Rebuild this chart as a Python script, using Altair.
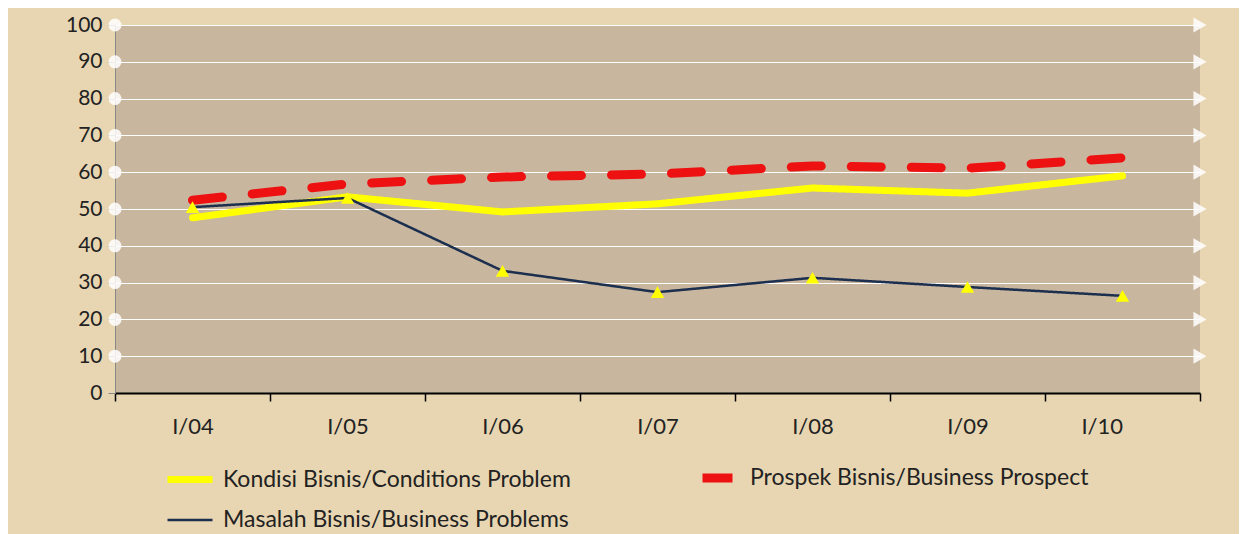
import altair as alt
import pandas as pd

categories = ["I/04", "I/05", "I/06", "I/07", "I/08", "I/09", "I/10"]
series_names = [
    "Kondisi Bisnis/Conditions Problem",
    "Prospek Bisnis/Business Prospect",
    "Masalah Bisnis/Business Problems",
]
kondisi = [47.6, 53.3, 49.2, 51.4, 55.7, 54.3, 59.0]
prospek = [52.4, 56.8, 58.7, 59.5, 61.7, 61.1, 63.9]
masalah = [50.5, 53.0, 33.2, 27.4, 31.3, 28.8, 26.4]
y_ticks = [0, 10, 20, 30, 40, 50, 60, 70, 80, 90, 100]

rows = []
for name, vals in zip(series_names, [kondisi, prospek, masalah]):
    for i, (c, v) in enumerate(zip(categories, vals)):
        rows.append({"series": name, "idx": i, "cat": c, "value": v})
df = pd.DataFrame(rows)

x_lo, x_hi = -0.5, len(categories) - 0.5
grid_ends = pd.DataFrame(
    [{"value": v, "lo": x_lo, "hi": x_hi} for v in y_ticks if v > 0]
)

FONT = "Lato"
cat_js = "[" + ",".join("'%s'" % c for c in categories) + "]"
tick_vals = [i - 0.5 for i in range(len(categories) + 1)]

x_scale = alt.Scale(domain=[x_lo, x_hi], nice=False, zero=False)
y_scale = alt.Scale(domain=[0, 100], nice=False)

x_axis = alt.Axis(
    values=tick_vals,
    labelExpr="datum.value >= 0 ? %s[round(datum.value - 0.5)] : ''" % cat_js,
    labelOffset=-77.5,
    title=None,
    grid=False,
    domainColor="#000000",
    domainWidth=2,
    tickColor="#000000",
    tickWidth=1.5,
    tickSize=8,
    labelFont=FONT,
    labelFontSize=22,
    labelColor="#222222",
    labelPadding=15,
)
y_axis = alt.Axis(
    values=y_ticks,
    title=None,
    grid=True,
    gridColor="#ffffff",
    gridWidth=1.2,
    domainColor="#888888",
    tickColor="#888888",
    tickSize=7,
    labelOverlap=False,
    labelFont=FONT,
    labelFontSize=21,
    labelColor="#222222",
    labelPadding=6,
)


def make_legend():
    return alt.Legend(
        title=None,
        orient="none",
        direction="horizontal",
        legendX=48,
        legendY=426,
        columns=2,
        columnPadding=105,
        rowPadding=0,
        symbolType="stroke",
        symbolSize=2025,
        symbolDashOffset=52,
        labelFont=FONT,
        labelFontSize=23,
        labelColor="#222222",
        labelOffset=6,
        labelLimit=600,
    )


lines = alt.Chart(df).mark_line(strokeCap="round", strokeJoin="round").encode(
    x=alt.X("idx:Q", scale=x_scale, axis=x_axis),
    y=alt.Y("value:Q", scale=y_scale, axis=y_axis),
    color=alt.Color(
        "series:N",
        scale=alt.Scale(domain=series_names, range=["#ffff00", "#ee1111", "#1c2f4f"]),
        legend=make_legend(),
    ),
    strokeDash=alt.StrokeDash(
        "series:N",
        scale=alt.Scale(domain=series_names, range=[[1, 0], [30, 30], [1, 0]]),
        legend=make_legend(),
    ),
    strokeWidth=alt.StrokeWidth(
        "series:N",
        scale=alt.Scale(type="ordinal", domain=series_names, range=[7, 9, 2.5]),
        legend=make_legend(),
    ),
    order=alt.Order("idx:Q"),
)

points = (
    alt.Chart(df)
    .transform_filter(alt.datum.series == series_names[2])
    .mark_point(shape="triangle-up", filled=True, color="#ffff00", size=180, opacity=1)
    .encode(
        x=alt.X("idx:Q", scale=x_scale, axis=x_axis),
        y=alt.Y("value:Q", scale=y_scale, axis=y_axis),
    )
)

left_dots = alt.Chart(grid_ends).mark_point(
    shape="circle", filled=True, color="#ffffff", size=170, opacity=0.85
).encode(
    x=alt.X("lo:Q", scale=x_scale, axis=x_axis),
    y=alt.Y("value:Q", scale=y_scale, axis=y_axis),
)

right_tris = alt.Chart(grid_ends).mark_point(
    shape="triangle-right", filled=True, color="#ffffff", size=230, opacity=0.85
).encode(
    x=alt.X("hi:Q", scale=x_scale, axis=x_axis),
    y=alt.Y("value:Q", scale=y_scale, axis=y_axis),
)

chart = (
    alt.layer(lines, left_dots, right_tris, points)
    .properties(
        width=1085,
        height=368,
        autosize=alt.AutoSizeParams(type="none"),
        padding={"left": 107, "top": 17, "right": 39, "bottom": 141},
        background="#e8d6b2",
    )
    .configure_view(fill="#c8b69e", stroke=None)
)

chart.save("out.html", embed_options={"renderer": "svg", "actions": False})
